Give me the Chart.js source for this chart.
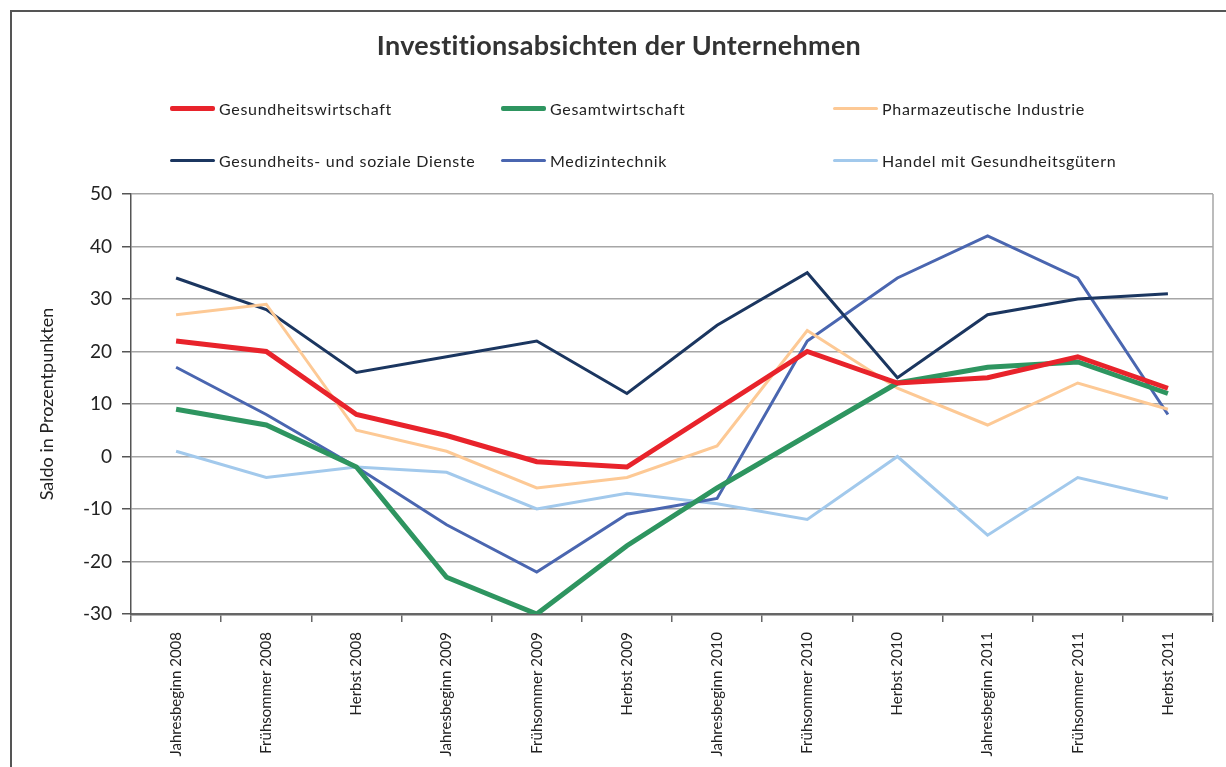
<!DOCTYPE html>
<html lang="de">
<head>
<meta charset="utf-8">
<title>Investitionsabsichten der Unternehmen</title>
<script src="https://cdn.jsdelivr.net/npm/chart.js@4.4.1/dist/chart.umd.min.js"></script>
<style>
    html, body { margin: 0; padding: 0; background: #fff; }
    #wrap { position: relative; width: 1226px; height: 767px; overflow: hidden; font-family: 'Lato', 'Open Sans', sans-serif; }
    #frame { position: absolute; left: 10px; top: 10px; width: 1240px; height: 800px; border-left: 2px solid #555; border-top: 2px solid #555; }
    #chart { position: absolute; left: 0; top: 0; }
    #title { position: absolute; left: 12px; right: 0; top: 28px; text-align: center; font-size: 27px; line-height: 34px; font-weight: 700; color: #333; letter-spacing: 0.3px; }
    .leg { position: absolute; display: flex; align-items: center; font-size: 16px; color: #222; letter-spacing: 0.7px; white-space: nowrap; }
    .leg span.sw { display: inline-block; width: 45px; margin-right: 4px; border-radius: 2px; }
</style>
</head>
<body>
<div id="wrap">
    <div id="frame"></div>
    <canvas id="chart" width="1226" height="767"></canvas>
    <div id="title">Investitionsabsichten der Unternehmen</div>
    <div id="legend"></div>
</div>
<script>
// Categories (survey dates)
const categories = [
    'Jahresbeginn 2008', 'Frühsommer 2008', 'Herbst 2008',
    'Jahresbeginn 2009', 'Frühsommer 2009', 'Herbst 2009',
    'Jahresbeginn 2010', 'Frühsommer 2010', 'Herbst 2010',
    'Jahresbeginn 2011', 'Frühsommer 2011', 'Herbst 2011'
];

// Series values (Saldo in Prozentpunkten)
const gesundheitswirtschaft = [22, 20, 8, 4, -1, -2, 9, 20, 14, 15, 19, 13];
const gesamtwirtschaft = [9, 6, -2, -23, -30, -17, -6, 4, 14, 17, 18, 12];
const pharmazeutischeIndustrie = [27, 29, 5, 1, -6, -4, 2, 24, 13, 6, 14, 9];
const sozialeDienste = [34, 28, 16, 19, 22, 12, 25, 35, 15, 27, 30, 31];
const medizintechnik = [17, 8, -2, -13, -22, -11, -8, 22, 34, 42, 34, 8];
const handel = [1, -4, -2, -3, -10, -7, -9, -12, 0, -15, -4, -8];

// Y axis range
const yMin = -30;
const yMax = 50;
const yStep = 10;

const FONT = "'Lato', 'Open Sans', sans-serif";

const datasets = [
    { label: 'Gesundheitswirtschaft', data: gesundheitswirtschaft, borderColor: '#e8232b', borderWidth: 5 },
    { label: 'Gesamtwirtschaft', data: gesamtwirtschaft, borderColor: '#2e9560', borderWidth: 5 },
    { label: 'Pharmazeutische Industrie', data: pharmazeutischeIndustrie, borderColor: '#fdc995', borderWidth: 3 },
    { label: 'Gesundheits- und soziale Dienste', data: sozialeDienste, borderColor: '#1b3660', borderWidth: 3 },
    { label: 'Medizintechnik', data: medizintechnik, borderColor: '#4a66b0', borderWidth: 3 },
    { label: 'Handel mit Gesundheitsgütern', data: handel, borderColor: '#a2c9ec', borderWidth: 3 }
].map(d => Object.assign(d, { fill: false, tension: 0, pointRadius: 0, pointHoverRadius: 0, borderCapStyle: 'butt', borderJoinStyle: 'miter' }));

// Right border of the plot area
const plotFrame = {
    id: 'plotFrame',
    afterDatasetsDraw(chart) {
        const { ctx, chartArea } = chart;
        ctx.save();
        ctx.strokeStyle = '#a6a6a6';
        ctx.lineWidth = 1.5;
        ctx.beginPath();
        ctx.moveTo(chartArea.right, chartArea.top);
        ctx.lineTo(chartArea.right, chartArea.bottom);
        ctx.stroke();
        ctx.restore();
    }
};

const chart = new Chart(document.getElementById('chart'), {
    type: 'line',
    data: { labels: categories, datasets: datasets },
    plugins: [plotFrame],
    options: {
        responsive: false,
        animation: false,
        devicePixelRatio: 1,
        layout: { padding: { top: 194, right: 13, left: 0, bottom: 0 } },
        plugins: {
            legend: { display: false },
            title: { display: false },
            tooltip: { enabled: false }
        },
        scales: {
            x: {
                offset: true,
                grid: { offset: true, drawOnChartArea: false, drawTicks: true, tickLength: 8, color: '#666', lineWidth: 1.5 },
                border: { color: '#666', width: 2.5 },
                ticks: {
                    autoSkip: false,
                    minRotation: 90,
                    maxRotation: 90,
                    padding: 10,
                    color: '#222',
                    font: { family: FONT, size: 15 }
                },
                afterFit(scale) { scale.height = 153; }
            },
            y: {
                min: yMin,
                max: yMax,
                grid: { color: '#a6a6a6', lineWidth: 1.5, tickLength: 9, tickColor: '#555' },
                border: { color: '#555', width: 1.5 },
                ticks: {
                    stepSize: yStep,
                    padding: 10,
                    color: '#222',
                    font: { family: FONT, size: 19 }
                },
                title: {
                    display: true,
                    text: 'Saldo in Prozentpunkten',
                    color: '#222',
                    font: { family: FONT, size: 18 },
                    padding: { top: 36, bottom: 0 }
                },
                afterFit(scale) { scale.width = 131; }
            }
        }
    }
});

// Legend: two rows of three, built from the datasets
const legendEl = document.getElementById('legend');
const colLeft = [170, 501, 833];
const rowCenter = [108, 160];
chart.data.datasets.forEach((ds, i) => {
    const item = document.createElement('div');
    item.className = 'leg';
    item.style.left = colLeft[i % 3] + 'px';
    item.style.top = (rowCenter[Math.floor(i / 3)] - 12) + 'px';
    item.style.height = '24px';
    const sw = document.createElement('span');
    sw.className = 'sw';
    sw.style.height = (ds.borderWidth === 5 ? 5 : 3) + 'px';
    sw.style.background = ds.borderColor;
    item.appendChild(sw);
    item.appendChild(document.createTextNode(ds.label));
    legendEl.appendChild(item);
});
</script>
</body>
</html>
